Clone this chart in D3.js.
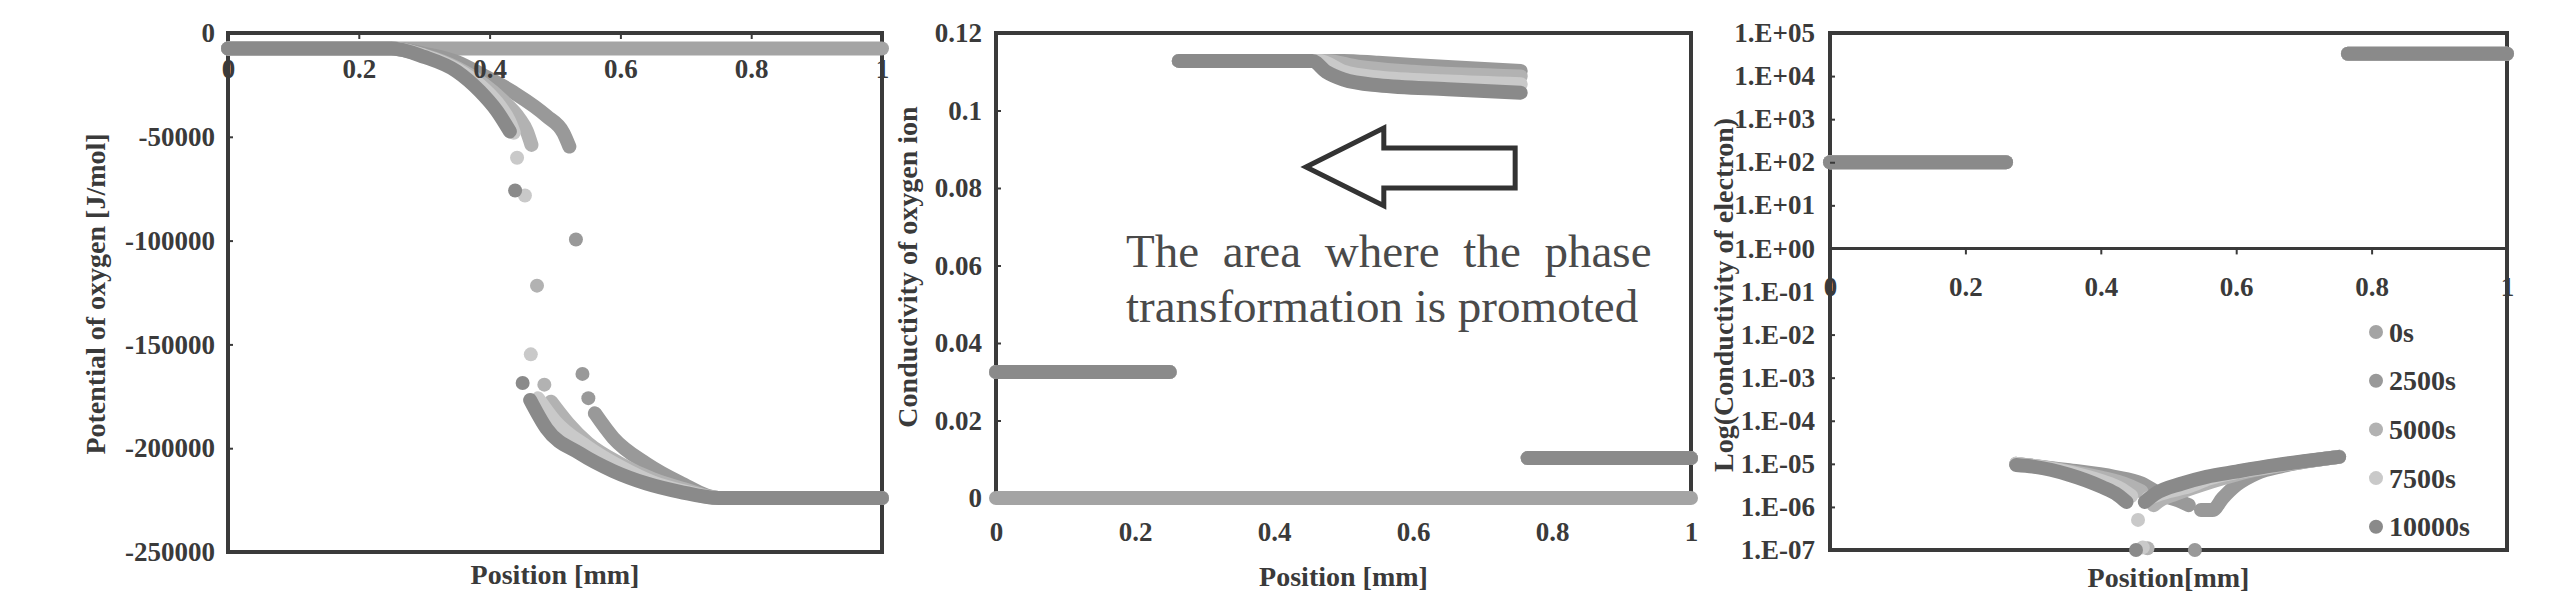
<!DOCTYPE html>
<html><head><meta charset="utf-8">
<script src="https://cdn.jsdelivr.net/npm/d3@7"></script>
<style>body{margin:0;background:#fff} svg{display:block}</style>
</head><body>
<svg id="chart" width="2560" height="610"></svg>
<script>
// ================= DATA =================
const seriesNames = ["0s", "2500s", "5000s", "7500s", "10000s"];

const xTickValues = [0, 0.2, 0.4, 0.6, 0.8, 1];
const xTickLabels = ["0", "0.2", "0.4", "0.6", "0.8", "1"];
const potTickValues = [0, -50000, -100000, -150000, -200000, -250000];
const potTickLabels = ["0", "-50000", "-100000", "-150000", "-200000", "-250000"];
const ionTickValues = [0, 0.02, 0.04, 0.06, 0.08, 0.1, 0.12];
const ionTickLabels = ["0", "0.02", "0.04", "0.06", "0.08", "0.1", "0.12"];
const elecTickValues = [1e5, 1e4, 1e3, 1e2, 1e1, 1e0, 1e-1, 1e-2, 1e-3, 1e-4, 1e-5, 1e-6, 1e-7];
const elecTickLabels = ["1.E+05", "1.E+04", "1.E+03", "1.E+02", "1.E+01", "1.E+00", "1.E-01",
                        "1.E-02", "1.E-03", "1.E-04", "1.E-05", "1.E-06", "1.E-07"];

// Panel 1: potential of oxygen [J/mol]; each series = list of runs of [position, value]
const pot_0s = [
  [[0, -7500], [1, -7500]]
];
const pot_2500s = [
  [[0, -7500], [0.25, -7500], [0.30, -10000], [0.35, -14000], [0.385, -19500], [0.436, -28500], [0.487, -40000], [0.513, -48200], [0.522, -54700]],
  [[0.532, -99500]],
  [[0.542, -164200]],
  [[0.551, -175900]],
  [[0.561, -183200], [0.589, -195000], [0.640, -207500], [0.691, -216500], [0.75, -224000], [1, -224000]]
];
const pot_5000s = [
  [[0, -7500], [0.25, -7500], [0.30, -10800], [0.35, -16800], [0.39, -24500], [0.42, -32500], [0.445, -41000], [0.457, -47400], [0.464, -53900]],
  [[0.4725, -121700]],
  [[0.4837, -169400]],
  [[0.494, -177600], [0.52, -188000], [0.55, -197500], [0.60, -207500], [0.65, -215000], [0.70, -220000], [0.75, -224000], [1, -224000]]
];
const pot_7500s = [
  [[0, -7500], [0.25, -7500], [0.30, -11000], [0.35, -17500], [0.39, -26500], [0.415, -35000], [0.43, -42500], [0.437, -48000]],
  [[0.442, -60100]],
  [[0.454, -78300]],
  [[0.463, -154800]],
  [[0.474, -176000], [0.50, -187000], [0.55, -199500], [0.60, -209000], [0.65, -216500], [0.70, -221000], [0.75, -224000], [1, -224000]]
];
const pot_10000s = [
  [[0, -7500], [0.25, -7500], [0.30, -11500], [0.35, -18500], [0.385, -28000], [0.411, -37500], [0.431, -47400]],
  [[0.439, -75900]],
  [[0.4505, -168600]],
  [[0.462, -176800], [0.487, -190500], [0.538, -202500], [0.589, -211000], [0.640, -217000], [0.691, -221000], [0.75, -224000], [1, -224000]]
];

// Panel 2: conductivity of oxygen ion
const ion_0s = [
  [[0, 0], [1, 0]]
];
const ion_2500s = [
  [[0, 0.0325], [0.25, 0.0325]],
  [[0.263, 0.1128], [0.50, 0.1128], [0.55, 0.1123], [0.65, 0.1112], [0.755, 0.1102]],
  [[0.765, 0.0103], [1, 0.0103]]
];
const ion_5000s = [
  [[0, 0.0325], [0.25, 0.0325]],
  [[0.263, 0.1128], [0.475, 0.1128], [0.52, 0.1113], [0.60, 0.1100], [0.755, 0.1088]],
  [[0.765, 0.0103], [1, 0.0103]]
];
const ion_7500s = [
  [[0, 0.0325], [0.25, 0.0325]],
  [[0.263, 0.1128], [0.465, 0.1128], [0.50, 0.1100], [0.55, 0.1085], [0.65, 0.1075], [0.755, 0.1068]],
  [[0.765, 0.0103], [1, 0.0103]]
];
const ion_10000s = [
  [[0, 0.0325], [0.25, 0.0325]],
  [[0.263, 0.1128], [0.455, 0.1128], [0.475, 0.1100], [0.50, 0.1080], [0.55, 0.1065], [0.65, 0.1055], [0.755, 0.1046]],
  [[0.765, 0.0103], [1, 0.0103]]
];

// Panel 3: conductivity of electron (log)
const elec_0s = [];
const elec_2500s = [
  [[0, 100], [0.26, 100]],
  [[0.275, 1.0e-5], [0.35, 7.2e-6], [0.42, 5.0e-6], [0.46, 3.5e-6], [0.49, 1.9e-6], [0.515, 1.4e-6], [0.53, 1.1e-6]],
  [[0.539, 1.0e-7]],
  [[0.548, 8.5e-7], [0.565, 8.5e-7], [0.58, 1.6e-6], [0.60, 3.2e-6], [0.63, 6.0e-6], [0.67, 9.0e-6], [0.752, 1.45e-5]],
  [[0.765, 3.3e4], [1, 3.3e4]]
];
const elec_5000s = [
  [[0, 100], [0.26, 100]],
  [[0.275, 1.0e-5], [0.35, 6.8e-6], [0.40, 4.8e-6], [0.44, 3.2e-6], [0.46, 2.3e-6]],
  [[0.469, 1.1e-7]],
  [[0.478, 1.1e-6], [0.49, 1.5e-6], [0.51, 2.0e-6], [0.55, 3.3e-6], [0.58, 4.6e-6], [0.62, 6.8e-6], [0.68, 1.0e-5], [0.752, 1.45e-5]],
  [[0.765, 3.3e4], [1, 3.3e4]]
];
const elec_7500s = [
  [[0, 100], [0.26, 100]],
  [[0.275, 1.0e-5], [0.35, 6.5e-6], [0.40, 4.0e-6], [0.43, 2.6e-6], [0.445, 1.8e-6]],
  [[0.455, 5.0e-7]],
  [[0.462, 1.15e-7]],
  [[0.47, 1.6e-6], [0.50, 2.3e-6], [0.53, 3.0e-6], [0.56, 4.6e-6], [0.60, 6.4e-6], [0.66, 9.2e-6], [0.752, 1.45e-5]],
  [[0.765, 3.3e4], [1, 3.3e4]]
];
const elec_10000s = [
  [[0, 100], [0.26, 100]],
  [[0.275, 9.4e-6], [0.30, 8.6e-6], [0.353, 5.6e-6], [0.402, 2.9e-6], [0.425, 1.9e-6], [0.438, 1.3e-6]],
  [[0.452, 1.0e-7]],
  [[0.465, 1.3e-6], [0.48, 2.0e-6], [0.52, 3.5e-6], [0.556, 5.0e-6], [0.60, 6.6e-6], [0.658, 9.3e-6], [0.70, 1.15e-5], [0.752, 1.45e-5]],
  [[0.765, 3.3e4], [1, 3.3e4]]
];

// annotation in panel 2 (data units)
const annotationLines = ["The area where the phase", "transformation is promoted"];
const arrowShape = [[0.446, 0.0854], [0.558, 0.0955], [0.558, 0.0903], [0.747, 0.0903],
                    [0.747, 0.0800], [0.558, 0.0800], [0.558, 0.0754]];

// ================= STYLE / LAYOUT =================
const seriesColors = ["#a4a4a4", "#999999", "#b2b2b2", "#c9c9c9", "#8a8a8a"];
const R = 7;
const FONT = "'Liberation Serif','Times New Roman',serif";
const INK = "#3a3a3a";
const svg = d3.select("#chart");
const frameLayer = svg.append("g");
const dataLayer = svg.append("g");
const textLayer = svg.append("g");

function drawRuns(g, seriesList, x, y) {
  const line = d3.line().x(d => x(d[0])).y(d => y(d[1])).curve(d3.curveMonotoneX);
  seriesList.forEach((runs, i) => {
    const col = seriesColors[i];
    const sg = g.append("g");
    sg.selectAll("path").data(runs.filter(r => r.length > 1)).join("path")
      .attr("d", line).attr("fill", "none").attr("stroke", col)
      .attr("stroke-width", 2 * R).attr("stroke-linecap", "round").attr("stroke-linejoin", "round");
    sg.selectAll("circle").data(runs.filter(r => r.length === 1)).join("circle")
      .attr("cx", r => x(r[0][0])).attr("cy", r => y(r[0][1])).attr("r", R).attr("fill", col);
  });
}

function styleAxis(g) {
  g.select(".domain").remove();
  g.selectAll(".tick line").attr("stroke", INK).attr("stroke-width", 2);
  g.selectAll("text").attr("font-family", FONT).attr("font-weight", "bold")
    .attr("font-size", 27).attr("fill", INK);
}

function frame(x, y) {
  const [x0, x1] = x.range(), [y0, y1] = y.range();
  frameLayer.append("rect").attr("x", x0).attr("y", Math.min(y0, y1))
    .attr("width", x1 - x0).attr("height", Math.abs(y0 - y1))
    .attr("fill", "none").attr("stroke", INK).attr("stroke-width", 4);
}

function yTitle(text, cx, cy) {
  textLayer.append("text").attr("transform", `translate(${cx},${cy}) rotate(-90)`)
    .attr("text-anchor", "middle").attr("dominant-baseline", "central")
    .attr("font-family", FONT).attr("font-weight", "bold").attr("font-size", 28)
    .attr("fill", INK).text(text);
}
function xTitle(text, cx, cy) {
  textLayer.append("text").attr("x", cx).attr("y", cy)
    .attr("text-anchor", "middle").attr("dominant-baseline", "central")
    .attr("font-family", FONT).attr("font-weight", "bold").attr("font-size", 28)
    .attr("fill", INK).text(text);
}

// ---------- Panel 1 ----------
const x1 = d3.scaleLinear().domain([0, 1]).range([228, 882]);
const y1 = d3.scaleLinear().domain([-250000, 0]).range([552, 33]);
frame(x1, y1);
textLayer.append("g").attr("transform", `translate(${x1(0)},0)`)
  .call(d3.axisLeft(y1).tickValues(potTickValues).tickSize(-5).tickPadding(13)
    .tickFormat((d, i) => potTickLabels[i])).call(styleAxis);
textLayer.append("g").attr("transform", `translate(0,${y1(0)})`)
  .call(d3.axisBottom(x1).tickValues(xTickValues).tickSize(6).tickPadding(20)
    .tickFormat((d, i) => xTickLabels[i])).call(styleAxis);
drawRuns(dataLayer.append("g"), [pot_0s, pot_2500s, pot_5000s, pot_7500s, pot_10000s], x1, y1);
yTitle("Potential of oxygen [J/mol]", 95, 294);
xTitle("Position [mm]", (x1(0) + x1(1)) / 2, 574);

// ---------- Panel 2 ----------
const x2 = d3.scaleLinear().domain([0, 1]).range([996, 1691]);
const y2 = d3.scaleLinear().domain([0, 0.12]).range([498, 33]);
frame(x2, y2);
frameLayer.append("g").attr("transform", `translate(${x2(0)},0)`)
  .call(d3.axisLeft(y2).tickValues(ionTickValues).tickSize(-5).tickPadding(14)
    .tickFormat((d, i) => ionTickLabels[i])).call(styleAxis);
frameLayer.append("g").attr("transform", `translate(0,${y2(0)})`)
  .call(d3.axisBottom(x2).tickValues(xTickValues).tickSize(5).tickPadding(19)
    .tickFormat((d, i) => xTickLabels[i])).call(styleAxis);
drawRuns(dataLayer.append("g"), [ion_0s, ion_2500s, ion_5000s, ion_7500s, ion_10000s], x2, y2);
yTitle("Conductivity of oxygen ion", 907, 267);
xTitle("Position [mm]", (x2(0) + x2(1)) / 2, 576);

// arrow + annotation
textLayer.append("path")
  .attr("d", d3.line().x(d => x2(d[0])).y(d => y2(d[1]))(arrowShape) + "Z")
  .attr("fill", "#fff").attr("stroke", "#333").attr("stroke-width", 5).attr("stroke-linejoin", "miter");
textLayer.append("text").attr("x", x2(0.187)).attr("y", y2(0.0596))
  .attr("font-family", FONT).attr("font-size", 47).attr("fill", "#4a4a4a")
  .attr("word-spacing", 12).text(annotationLines[0]);
textLayer.append("text").attr("x", x2(0.187)).attr("y", y2(0.0454))
  .attr("font-family", FONT).attr("font-size", 47).attr("fill", "#4a4a4a")
  .attr("textLength", x2(0.924) - x2(0.187)).attr("lengthAdjust", "spacingAndGlyphs")
  .text(annotationLines[1]);

// ---------- Panel 3 ----------
const x3 = d3.scaleLinear().domain([0, 1]).range([1830, 2507]);
const y3 = d3.scaleLog().domain([1e-7, 1e5]).range([550, 33]);
frame(x3, y3);
frameLayer.append("line").attr("x1", x3(0)).attr("x2", x3(1)).attr("y1", y3(1)).attr("y2", y3(1))
  .attr("stroke", INK).attr("stroke-width", 3);
textLayer.append("g").attr("transform", `translate(${x3(0)},0)`)
  .call(d3.axisLeft(y3).tickValues(elecTickValues).tickSize(-5).tickPadding(15)
    .tickFormat((d, i) => elecTickLabels[i])).call(styleAxis);
textLayer.append("g").attr("transform", `translate(0,${y3(1)})`)
  .call(d3.axisBottom(x3).tickValues(xTickValues).tickSize(6).tickPadding(22)
    .tickFormat((d, i) => xTickLabels[i])).call(styleAxis);
drawRuns(dataLayer.append("g"), [elec_0s, elec_2500s, elec_5000s, elec_7500s, elec_10000s], x3, y3);
yTitle("Log(Conductivity of electron)", 1723, 295);
xTitle("Position[mm]", (x3(0) + x3(1)) / 2, 577);

// legend
const legend = textLayer.append("g").attr("transform", "translate(2376,332)");
const items = legend.selectAll("g").data(seriesNames).join("g")
  .attr("transform", (d, i) => `translate(0,${i * 48.7})`);
items.append("circle").attr("r", R).attr("fill", (d, i) => seriesColors[i]);
items.append("text").attr("x", 13).attr("dominant-baseline", "central")
  .attr("font-family", FONT).attr("font-weight", "bold").attr("font-size", 28)
  .attr("fill", INK).text(d => d);
</script>
</body></html>
